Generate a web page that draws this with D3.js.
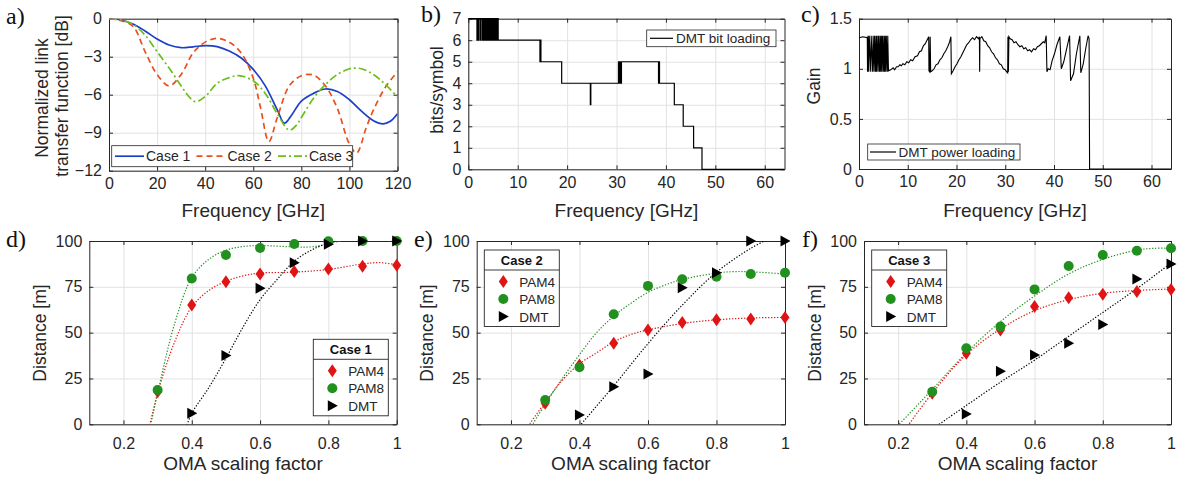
<!DOCTYPE html>
<html>
<head>
<meta charset="utf-8">
<script src="https://cdn.jsdelivr.net/npm/d3@7"></script>
<style>
  body { margin: 0; background: #fff; }
  svg { display: block; font-family: "Liberation Sans", Arial, sans-serif; }
</style>
</head>
<body>
<svg id="fig" width="1180" height="481"></svg>
<script>
// ---- a) normalized link transfer function [dB] vs frequency [GHz]
let case1Tf = [[0,0],[5,-0.1],[10,-0.42],[15,-0.97],[20,-1.6],[25,-2.08],[30,-2.29],[35,-2.22],[40,-2.12],[45,-2.2],[50,-2.55],[55,-3.1],[60,-4.0],[65,-5.3],[70,-7.2],[73,-8.25],[76,-7.6],[80,-6.5],[85,-5.9],[90,-5.55],[95,-5.75],[100,-6.4],[105,-7.3],[110,-8.05],[114,-8.3],[117,-8.1],[120,-7.5]];
let case2Tf = [[0,0],[5,-0.15],[10,-0.6],[15,-2.6],[20,-4.4],[25,-5.3],[30,-4.4],[35,-2.7],[40,-1.85],[45,-1.55],[50,-1.85],[55,-2.7],[60,-4.7],[63,-7.0],[66.5,-9.7],[70,-7.8],[75,-5.3],[80,-4.5],[85,-4.45],[90,-5.3],[95,-7.1],[100,-9.9],[103,-10.6],[107,-8.6],[110,-7.2],[115,-5.4],[120,-4.2]];
let case3Tf = [[0,0],[5,-0.1],[10,-0.45],[15,-1.3],[20,-2.6],[25,-3.9],[30,-5.3],[33,-6.1],[36,-6.55],[40,-6.15],[45,-5.1],[50,-4.65],[54,-4.5],[60,-4.9],[65,-5.9],[70,-7.5],[75,-8.8],[78,-8.4],[80,-7.8],[85,-6.3],[90,-5.2],[95,-4.4],[100,-3.95],[102,-3.9],[105,-3.95],[110,-4.4],[115,-5.2],[120,-6.2]];
let caseNames = ["Case 1", "Case 2", "Case 3"];

// ---- b) DMT bit loading: [frequency where level starts, bits]
let bitLoading = [[0,7],[1.75,6],[1.85,7],[2.0,6],[2.1,7],[2.4,6],[2.5,7],[2.8,6],[2.9,7],[3.1,6],[3.2,7],[3.4,6],[3.5,7],[3.6,6],[3.7,7],[3.9,6],[4.0,7],[4.2,6],[4.3,7],[4.45,6],[4.55,7],[4.7,6],[4.8,7],[5.0,6],[5.1,7],[5.25,6],[5.35,7],[5.5,6],[5.6,7],[5.8,6],[5.9,7],[6.05,6],[14.5,5],[14.6,6],[14.7,5],[18.9,4],[24.7,3],[24.8,4],[30.4,5],[30.5,4],[30.7,5],[30.8,4],[31.0,5],[38.5,4],[38.6,5],[38.7,4],[41.7,3],[43.5,2],[45.6,1],[47.3,0],[64,0]];

// ---- c) DMT power loading (gain)
let powerLoading = [[0,1.31],[0.8,1.32],[1.7,1.31],[1.75,0.97],[1.85,1.33],[2.0,0.97],[2.1,1.33],[2.4,0.97],[2.5,1.33],[2.8,0.97],[2.9,1.33],[3.1,0.97],[3.2,1.33],[3.4,0.97],[3.5,1.33],[3.6,0.97],[3.7,1.33],[3.9,0.97],[4.0,1.33],[4.2,0.97],[4.3,1.33],[4.45,0.97],[4.55,1.33],[4.7,0.97],[4.8,1.33],[5.0,0.97],[5.1,1.33],[5.25,0.97],[5.35,1.33],[5.5,0.97],[5.6,1.33],[5.8,0.97],[5.9,1.33],[6.05,0.98],
  [6.5,0.99],[7,1.01],[7.3,0.99],[7.7,1.02],[8,1.02],[8.4,1.04],[8.7,1.03],[9,1.05],[9.4,1.04],[9.8,1.07],[10.2,1.06],[10.6,1.09],[11,1.08],[11.5,1.12],[12,1.13],[12.4,1.17],[12.8,1.18],[13.2,1.23],[13.6,1.25],[14,1.29],[14.3,1.32],[14.35,0.98],[14.5,0.97],[14.6,1.32],[14.7,0.97],
  [15,0.98],[15.4,1.0],[15.8,1.04],[16.2,1.05],[16.6,1.09],[17,1.11],[17.4,1.15],[17.8,1.18],[18.2,1.22],[18.6,1.27],[18.85,1.32],[18.95,0.95],[19.3,0.98],[19.7,1.02],[20.1,1.05],[20.5,1.09],[20.9,1.12],[21.3,1.16],[21.7,1.2],[22.1,1.24],[22.5,1.26],[22.9,1.29],[23.3,1.31],[23.7,1.29],[24.1,1.32],[24.5,1.3],[24.7,1.32],[24.75,0.97],[24.8,1.3],[25.2,1.32],[25.6,1.28],[26,1.27],[26.4,1.23],[26.8,1.21],[27.2,1.17],[27.6,1.15],[28,1.11],[28.4,1.09],[28.8,1.05],[29.2,1.04],[29.6,1.0],[30,0.99],[30.3,0.97],[30.5,0.96],[30.55,1.32],[30.65,0.97],[30.75,1.32],
  [31,1.3],[31.4,1.29],[31.8,1.26],[32.2,1.27],[32.6,1.24],[33,1.22],[33.4,1.23],[33.8,1.2],[34.2,1.21],[34.6,1.18],[35,1.19],[35.4,1.17],[35.8,1.2],[36.2,1.19],[36.6,1.22],[37,1.23],[37.4,1.25],[37.8,1.27],[38.1,1.26],[38.4,1.33],[38.55,0.97],[38.8,1.0],[39.2,0.99],[39.6,1.08],[40.1,1.15],[40.6,1.24],[41.2,1.32],[41.5,1.0],[42,1.07],[42.5,1.18],[43.2,1.33],[43.4,0.88],[44,0.95],[44.6,1.15],[45.3,1.33],[45.5,0.96],[46,1.05],[46.5,1.2],[47,1.33],[47.2,1.3],[47.3,0],[64,0]];

// ---- d,e,f) distance [m] vs OMA scaling factor
let omaX = [0.3, 0.4, 0.5, 0.6, 0.7, 0.8, 0.9, 1.0];
let case1Pam4 = [17.8, 65.1, 77.8, 82.0, 83.3, 84.7, 86.2, 86.8];
let case1Pam8 = [18.7, 79.5, 92.4, 96.2, 98.4, 99.8, 100, 100];
let case1Dmt  = [null, 6.0, 37.5, 74.2, 88.2, 98.2, 100, 100];
let case2Pam4 = [11.5, 32.4, 44.2, 51.5, 55.5, 57.0, 57.5, 58.2];
let case2Pam8 = [13.3, 31.1, 60.0, 75.5, 79.1, 80.5, 82.0, 82.7];
let case2Dmt  = [null, 5.1, 20.5, 27.5, 74.5, 82.7, 100, 100];
let case3Pam4 = [16.9, 38.7, 51.5, 64.2, 69.1, 70.9, 72.4, 73.6];
let case3Pam8 = [17.8, 41.5, 53.3, 73.6, 86.4, 92.4, 94.7, 96.0];
let case3Dmt  = [null, 5.6, 29.0, 37.8, 44.2, 54.5, 79.3, 87.5];

// fitted (dotted) curves
let case1Pam4Fit = [[0.275,-2],[0.3,17],[0.35,45],[0.4,64],[0.45,73],[0.5,78],[0.55,81],[0.6,82.5],[0.7,83],[0.8,84.5],[0.9,87.5],[0.95,88.2],[1.0,87]];
let case1Pam8Fit = [[0.278,-2],[0.3,17],[0.35,55],[0.4,80],[0.45,90],[0.5,95],[0.55,97],[0.6,97.5],[0.7,96.8],[0.75,96.8],[0.8,98.5],[0.84,100.2],[0.9,102],[1.0,103]];
let case1DmtFit  = [[0.383,-2],[0.4,6],[0.45,20],[0.5,36],[0.55,53],[0.6,68],[0.65,79],[0.7,89],[0.75,95],[0.8,99],[0.85,102]];
let case2Pam4Fit = [[0.25,-1],[0.3,12],[0.35,24],[0.4,33],[0.45,39],[0.5,45],[0.55,49],[0.6,51.5],[0.7,55],[0.8,57],[0.9,58],[1.0,58.3]];
let case2Pam8Fit = [[0.26,-1],[0.3,11],[0.35,25],[0.4,38],[0.45,50],[0.5,59],[0.55,66],[0.6,72],[0.65,76],[0.7,79],[0.8,82.5],[0.85,83.3],[0.9,83.2],[1.0,82]];
let case2DmtFit  = [[0.4,-1],[0.5,21],[0.6,44],[0.7,65],[0.8,83],[0.9,96],[0.95,101]];
let case3Pam4Fit = [[0.228,-1],[0.3,17],[0.4,38],[0.5,52],[0.6,62],[0.7,68],[0.8,71.5],[0.9,73],[1.0,73.8]];
let case3Pam8Fit = [[0.198,-1],[0.3,19],[0.4,39],[0.5,56],[0.6,70],[0.7,82],[0.8,90],[0.9,95],[0.95,96],[1.0,96]];
let case3DmtFit  = [[0.32,0],[0.5,23],[0.6,35],[0.7,48],[0.8,61],[0.9,74],[1.0,88]];

let axisColor = "#262626";
let gridColor = "#e2e2e2";
let redColor = "#e01414";
let greenColor = "#22901e";
let caseColors = ["#1c3fc8", "#e8501c", "#6cbf1a"];
let caseDash = [null, "6,4", "8,3,2,3"];

let svg = d3.select("#fig");
svg.append("rect").attr("width", 1180).attr("height", 481).attr("fill", "#fff");
let defs = svg.append("defs");

function makePanel(id, box, xDomain, yDomain, xTicks, yTicks, xFmt, yFmt, xPad) {
  let x = d3.scaleLinear().domain(xDomain).range([box.left, box.right]);
  let y = d3.scaleLinear().domain(yDomain).range([box.bottom, box.top]);
  let w = box.right - box.left, h = box.bottom - box.top;
  let g = svg.append("g");

  defs.append("clipPath").attr("id", "clip_" + id)
    .append("rect").attr("x", box.left).attr("y", box.top).attr("width", w).attr("height", h);

  // grid
  g.append("g").attr("transform", "translate(0," + box.bottom + ")")
    .call(d3.axisBottom(x).tickValues(xTicks).tickSize(-h).tickFormat(""))
    .call(s => s.select(".domain").remove())
    .selectAll("line").attr("stroke", gridColor);
  g.append("g").attr("transform", "translate(" + box.left + ",0)")
    .call(d3.axisLeft(y).tickValues(yTicks).tickSize(-w).tickFormat(""))
    .call(s => s.select(".domain").remove())
    .selectAll("line").attr("stroke", gridColor);

  // box with inward ticks on all four sides
  let axes = [
    g.append("g").attr("transform", "translate(0," + box.bottom + ")")
      .call(d3.axisBottom(x).tickValues(xTicks).tickFormat(xFmt).tickSize(-4).tickSizeOuter(0).tickPadding(xPad)),
    g.append("g").attr("transform", "translate(" + box.left + ",0)")
      .call(d3.axisLeft(y).tickValues(yTicks).tickFormat(yFmt).tickSize(-4).tickSizeOuter(0).tickPadding(7)),
    g.append("g").attr("transform", "translate(0," + box.top + ")")
      .call(d3.axisTop(x).tickValues(xTicks).tickFormat("").tickSize(-4).tickSizeOuter(0)),
    g.append("g").attr("transform", "translate(" + box.right + ",0)")
      .call(d3.axisRight(y).tickValues(yTicks).tickFormat("").tickSize(-4).tickSizeOuter(0))
  ];
  axes.forEach(a => {
    a.select(".domain").attr("stroke", axisColor).attr("stroke-width", 1);
    a.selectAll(".tick line").attr("stroke", axisColor);
    a.selectAll("text").attr("fill", axisColor).style("font-size", "16px")
      .style("font-family", "'Liberation Sans', Arial, sans-serif");
  });
  return {g: g, x: x, y: y, clip: "url(#clip_" + id + ")"};
}

function panelLetter(txt, px, py) {
  svg.append("text").attr("x", px).attr("y", py).text(txt)
    .style("font-family", "'Liberation Serif', 'Times New Roman', serif")
    .style("font-size", "24px").attr("fill", "#111");
}

function xLabel(txt, cx, cy) {
  svg.append("text").attr("x", cx).attr("y", cy).attr("text-anchor", "middle")
    .text(txt).style("font-size", "19px").attr("fill", axisColor);
}

function yLabel(txt, bx, cy) {
  svg.append("text").attr("transform", "translate(" + bx + "," + cy + ") rotate(-90)")
    .attr("text-anchor", "middle").text(txt).style("font-size", "17.5px").attr("fill", axisColor);
}

// ================= a)
let pA = makePanel("a", {left: 109, right: 397.5, top: 18.7, bottom: 170.7}, [0, 120], [-12, 0],
  [0, 20, 40, 60, 80, 100, 120], [-12, -9, -6, -3, 0], d3.format("d"), d3.format("d"), 7);
let tfLine = d3.line().x(d => pA.x(d[0])).y(d => pA.y(d[1])).curve(d3.curveCatmullRom.alpha(0.5));
[case1Tf, case2Tf, case3Tf].forEach((data, i) => {
  pA.g.append("path").datum(data).attr("d", tfLine).attr("clip-path", pA.clip)
    .attr("fill", "none").attr("stroke", caseColors[i]).attr("stroke-width", 1.7)
    .attr("stroke-dasharray", caseDash[i]);
});
// legend a
let legA = pA.g.append("g");
legA.append("rect").attr("x", 111.7).attr("y", 145.7).attr("width", 241).attr("height", 21)
  .attr("fill", "#fff").attr("stroke", axisColor).attr("stroke-width", 0.8);
let legAx = [115, 196.5, 278];
caseNames.forEach((name, i) => {
  legA.append("line").attr("x1", legAx[i]).attr("x2", legAx[i] + 29).attr("y1", 156.2).attr("y2", 156.2)
    .attr("stroke", caseColors[i]).attr("stroke-width", 1.7).attr("stroke-dasharray", caseDash[i]);
  legA.append("text").attr("x", legAx[i] + 31).attr("y", 161).text(name)
    .style("font-size", "14px").attr("fill", axisColor);
});
panelLetter("a)", 6, 24);
xLabel("Frequency [GHz]", 253.3, 217);
yLabel("Normalized link", 47.5, 98);
yLabel("transfer function [dB]", 67.5, 96);

// ================= b)
let pB = makePanel("b", {left: 468.3, right: 784.5, top: 18.7, bottom: 169.3}, [0, 64], [0, 7],
  [0, 10, 20, 30, 40, 50, 60], [0, 1, 2, 3, 4, 5, 6, 7], d3.format("d"), d3.format("d"), 7);
let stepLine = d3.line().x(d => pB.x(d[0])).y(d => pB.y(d[1])).curve(d3.curveStepAfter);
pB.g.append("path").datum(bitLoading).attr("d", stepLine)
  .attr("fill", "none").attr("stroke", "#000").attr("stroke-width", 1.2);
let legB = pB.g.append("g");
legB.append("rect").attr("x", 646.7).attr("y", 30).attr("width", 129.3).attr("height", 16.7)
  .attr("fill", "#fff").attr("stroke", axisColor).attr("stroke-width", 0.8);
legB.append("line").attr("x1", 650).attr("x2", 673).attr("y1", 38.3).attr("y2", 38.3)
  .attr("stroke", "#000").attr("stroke-width", 1.2);
legB.append("text").attr("x", 676).attr("y", 43.2).text("DMT bit loading")
  .style("font-size", "13.5px").attr("fill", axisColor);
panelLetter("b)", 421, 22);
xLabel("Frequency [GHz]", 626.4, 217);
yLabel("bits/symbol", 443, 90);

// ================= c)
let pC = makePanel("c", {left: 859, right: 1171, top: 18.7, bottom: 169}, [0, 64], [0, 1.5],
  [0, 10, 20, 30, 40, 50, 60], [0, 0.5, 1, 1.5], d3.format("d"), d => d, 7);
let powLine = d3.line().x(d => pC.x(d[0])).y(d => pC.y(d[1]));
pC.g.append("path").datum(powerLoading).attr("d", powLine)
  .attr("fill", "none").attr("stroke", "#000").attr("stroke-width", 1.1);
let legC = pC.g.append("g");
legC.append("rect").attr("x", 867.7).attr("y", 144).attr("width", 152.3).attr("height", 16)
  .attr("fill", "#fff").attr("stroke", axisColor).attr("stroke-width", 0.8);
legC.append("line").attr("x1", 870).attr("x2", 896).attr("y1", 152).attr("y2", 152)
  .attr("stroke", "#000").attr("stroke-width", 1.2);
legC.append("text").attr("x", 898.5).attr("y", 156.8).text("DMT power loading")
  .style("font-size", "13.5px").attr("fill", axisColor);
panelLetter("c)", 801, 22);
xLabel("Frequency [GHz]", 1015, 217);
yLabel("Gain", 820, 86);

// ================= d, e, f)
function diamondPath() { return "M0,-6.5L4.5,0L0,6.5L-4.5,0Z"; }
function trianglePath() { return "M-4.5,-5.5L5.5,0L-4.5,5.5Z"; }

function distancePanel(id, box, pam4, pam8, dmt, pam4Fit, pam8Fit, dmtFit, title, leg, letter, letterX, labelX) {
  let p = makePanel(id, box, [0.1, 1], [0, 100], [0.2, 0.4, 0.6, 0.8, 1], [0, 25, 50, 75, 100],
    d => d, d3.format("d"), 13);
  let fitLine = d3.line().x(d => p.x(d[0])).y(d => p.y(d[1])).curve(d3.curveCatmullRom.alpha(0.5));
  [[pam4Fit, redColor], [pam8Fit, greenColor], [dmtFit, "#000"]].forEach(f => {
    p.g.append("path").datum(f[0]).attr("d", fitLine).attr("clip-path", p.clip)
      .attr("fill", "none").attr("stroke", f[1]).attr("stroke-width", 1.2).attr("stroke-dasharray", "1.3,1.7");
  });
  let pts = (vals) => omaX.map((v, i) => [v, vals[i]]).filter(d => d[1] != null);
  p.g.selectAll(".pam4_" + id).data(pts(pam4)).enter().append("path")
    .attr("transform", d => "translate(" + p.x(d[0]) + "," + p.y(d[1]) + ")")
    .attr("d", diamondPath()).attr("fill", redColor);
  p.g.selectAll(".pam8_" + id).data(pts(pam8)).enter().append("circle")
    .attr("cx", d => p.x(d[0])).attr("cy", d => p.y(d[1])).attr("r", 5).attr("fill", greenColor);
  p.g.selectAll(".dmt_" + id).data(pts(dmt)).enter().append("path")
    .attr("transform", d => "translate(" + p.x(d[0]) + "," + p.y(d[1]) + ")")
    .attr("d", trianglePath()).attr("fill", "#000");

  // legend
  let lg = p.g.append("g");
  lg.append("rect").attr("x", leg.x).attr("y", leg.y).attr("width", 75).attr("height", 76.5)
    .attr("fill", "#fff").attr("stroke", axisColor).attr("stroke-width", 0.9);
  lg.append("line").attr("x1", leg.x).attr("x2", leg.x + 75).attr("y1", leg.y + 20).attr("y2", leg.y + 20)
    .attr("stroke", axisColor).attr("stroke-width", 0.9);
  lg.append("text").attr("x", leg.x + 37.5).attr("y", leg.y + 14.5).attr("text-anchor", "middle")
    .text(title).style("font-size", "13px").style("font-weight", "bold").attr("fill", "#111");
  let mx = leg.x + 19, tx = leg.x + 35;
  lg.append("path").attr("transform", "translate(" + mx + "," + (leg.y + 31.5) + ")")
    .attr("d", diamondPath()).attr("fill", redColor);
  lg.append("circle").attr("cx", mx).attr("cy", leg.y + 49).attr("r", 5).attr("fill", greenColor);
  lg.append("path").attr("transform", "translate(" + mx + "," + (leg.y + 66.5) + ")")
    .attr("d", trianglePath()).attr("fill", "#000");
  ["PAM4", "PAM8", "DMT"].forEach((t, i) => {
    lg.append("text").attr("x", tx).attr("y", leg.y + 36.5 + i * 17.5).text(t)
      .style("font-size", "13.5px").attr("fill", axisColor);
  });

  panelLetter(letter, letterX, 247);
  xLabel("OMA scaling factor", (box.left + box.right) / 2, 470);
  yLabel("Distance [m]", labelX, 333);
}

distancePanel("d", {left: 89.3, right: 396.7, top: 241, bottom: 424.3},
  case1Pam4, case1Pam8, case1Dmt, case1Pam4Fit, case1Pam8Fit, case1DmtFit,
  "Case 1", {x: 313.3, y: 339.3}, "d)", 6, 46);
distancePanel("e", {left: 476.7, right: 785, top: 241, bottom: 424.3},
  case2Pam4, case2Pam8, case2Dmt, case2Pam4Fit, case2Pam8Fit, case2DmtFit,
  "Case 2", {x: 484.3, y: 250}, "e)", 414, 433);
distancePanel("f", {left: 864, right: 1171, top: 241, bottom: 424.3},
  case3Pam4, case3Pam8, case3Dmt, case3Pam4Fit, case3Pam8Fit, case3DmtFit,
  "Case 3", {x: 871.7, y: 250}, "f)", 802, 821);
</script>
</body>
</html>
